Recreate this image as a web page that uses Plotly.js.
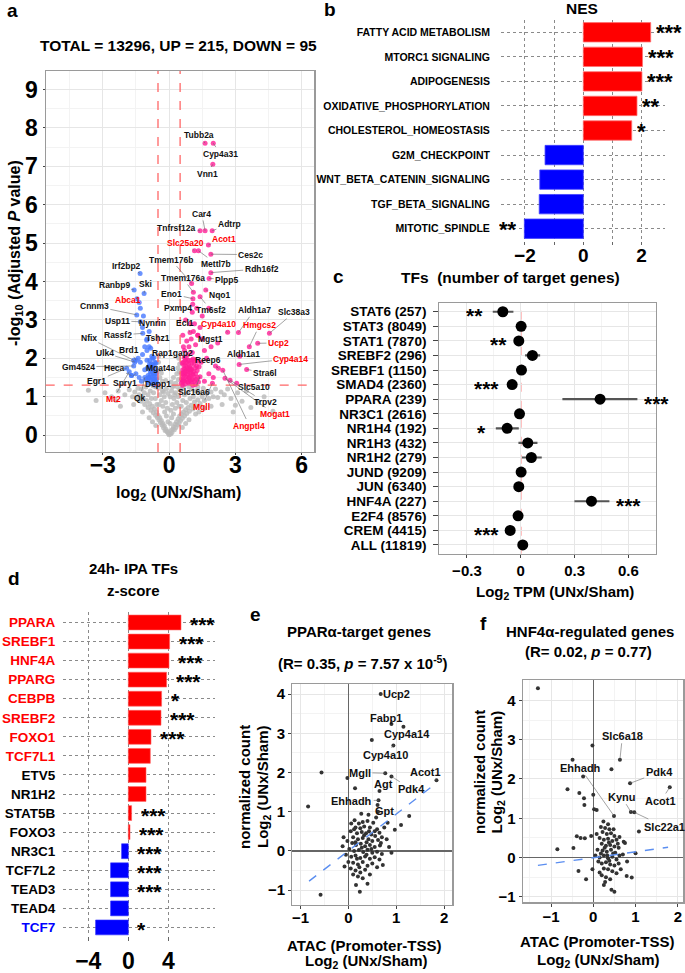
<!DOCTYPE html>
<html><head><meta charset="utf-8">
<script src="https://cdn.plot.ly/plotly-3.0.1.min.js"></script>
<style>html,body{margin:0;padding:0;background:#fff}#chart{width:685px;height:973px}</style>
</head><body><div id="chart"></div>
<script>
// ================= DATA =================
// (a) volcano: non-significant genes [log2FC, -log10 padj]
const volcGrey = [[0,0.01],[0.03,0.04],[-0.03,0.05],[0.07,0.03],[-0.07,0.08],[0.1,0.12],[-0.1,0.1],[0.13,0.07],[-0.14,0.15],[0.17,0.16],[-0.18,0.12],[0.2,0.22],[-0.21,0.24],[0.24,0.14],[-0.25,0.19],[0.27,0.28],[-0.28,0.3],[0.31,0.2],[-0.32,0.26],[0.34,0.35],[-0.35,0.38],[0.38,0.26],[-0.39,0.33],[0.41,0.42],[-0.42,0.45],[0.45,0.31],[-0.46,0.4],[0.48,0.5],[-0.5,0.52],[0.52,0.38],[-0.53,0.46],[0.56,0.55],[-0.57,0.6],[0.6,0.44],[-0.61,0.52],[0.65,0.6],[-0.66,0.68],[0.7,0.5],[-0.71,0.58],[0.75,0.66],[-0.76,0.75],[0.8,0.56],[-0.82,0.65],[0.86,0.72],[-0.88,0.82],[0.92,0.62],[-0.95,0.72],[1.0,0.78],[-1.02,0.9],[1.08,0.68],[-1.1,0.8],[1.15,0.86],[-1.18,0.98],[1.22,0.75],[-1.26,0.88],[1.3,0.92],[-1.35,1.05],[1.4,0.82],[-1.45,0.95],[1.5,1.0],[-1.55,1.12],[1.6,0.9],[-1.65,1.0],[1.7,1.08],[1.8,0.95],[-1.8,1.18],[1.9,1.12],[2.0,1.0],[-2.0,1.05],[2.1,1.2],[2.2,0.98],[-2.3,1.15],[2.35,1.12],[2.5,1.05],[-2.6,1.0],[2.65,1.2],[2.8,0.95],[-2.9,1.1],[3.0,0.78],[3.1,1.1],[3.3,0.88],[-3.3,0.9],[3.5,1.15],[3.7,0.72],[-3.65,1.17],[4.0,0.85],[4.3,1.0],[4.7,0.62],[-2.2,0.75],
[0.05,0.3],[-0.05,0.35],[0.12,0.45],[-0.12,0.5],[0.2,0.55],[-0.2,0.6],[0.08,0.65],[-0.08,0.7],[0.28,0.7],[-0.28,0.75],[0.15,0.8],[-0.15,0.85],[0.35,0.85],[-0.35,0.9],[0.22,0.95],[-0.22,1.0],[0.05,1.0],[-0.05,1.08],[0.42,1.0],[-0.42,1.05],[0.3,1.1],[-0.3,1.15],[0.12,1.15],[-0.12,1.2],[0.48,1.18],[-0.48,1.22],[0.38,1.25],[-0.38,1.28],[0.2,1.28],[0.55,0.75],[-0.55,0.8],[0.62,0.9],[-0.62,0.95],[0.7,1.05],[-0.7,1.1],[0.58,1.2],[-0.6,1.25],[0.78,0.85],[-0.8,0.95],[0.85,1.1],[-0.85,1.15],[0.95,0.95],[-0.95,1.05],[1.02,1.2],[-1.05,1.25],[1.1,1.0],[-1.12,1.1],[1.2,1.15],[1.3,1.25],[-1.25,1.2],[1.4,1.1],[1.55,1.22],[-1.4,1.22],[0.9,1.25],[0.65,1.28],[-0.72,1.28],
[0.9,0.4],[-0.9,0.45],[1.2,0.55],[-1.2,0.6],[1.6,0.7],[-1.6,0.8],[0.6,0.2],[-0.6,0.25],[0.75,0.3],[-0.75,0.35],[1.35,0.6],[2.4,0.8],[-2.4,0.9],[1.9,0.75],[2.9,0.6],[0.45,0.75],[-0.45,0.8],[0.25,1.05],[-0.25,1.12],[0.15,1.25],
[0.3,1.35],[-0.3,1.4],[0.42,1.45],[-0.42,1.5],[0.2,1.5],[0.46,1.65],[-0.45,1.7],[0.35,1.6],[-0.35,1.62],[0.48,1.85],[-0.48,1.9],[0.4,1.75],[0.44,2.0],[-0.47,2.05],[0.1,1.38],[-0.15,1.42]];
// (a) up-regulated genes
const volcUp = [[0.55,1.35],[0.6,1.5],[0.62,1.7],[0.65,1.9],[0.7,1.4],[0.72,1.6],[0.75,1.8],[0.78,2.0],[0.8,1.45],[0.85,1.65],[0.88,1.85],[0.9,1.35],[0.95,1.55],[0.98,1.75],[1.0,1.95],[1.05,1.45],[1.1,1.65],[1.12,1.85],[1.15,1.4],[1.2,1.6],[1.25,1.8],[1.3,1.5],[0.6,1.3],[0.68,1.55],[0.82,1.75],[0.92,1.5],[1.02,1.7],[1.08,1.3],[0.58,1.6],[0.74,1.95],[0.66,1.42],[0.86,1.38],[0.96,1.68],[1.18,1.75],[0.7,1.72],
[0.57,1.45],[0.63,1.62],[0.67,1.82],[0.73,1.33],[0.77,1.52],[0.83,1.58],[0.87,1.95],[0.93,1.78],[0.97,1.42],[1.03,1.88],[1.07,1.58],[1.13,1.52],[1.17,1.95],[1.22,1.45],[1.27,1.68],[1.33,1.38],[1.36,1.78],[0.59,1.88],[0.69,2.02],[0.79,1.68],[0.89,1.48],[0.99,1.62],[1.09,1.98],[1.19,1.32],[1.29,1.92],[0.61,1.4],[0.71,1.65],[0.81,1.9],[0.91,1.72],[1.01,1.38],
[0.7,2.2],[0.9,2.3],[1.0,2.5],[0.8,2.45],[1.2,2.35],[1.3,2.6],[1.1,2.7],[0.95,2.9],[1.15,2.9],[1.4,2.8],[1.5,2.5],[1.6,2.2],[1.7,2.0],[1.45,1.9],[1.8,1.6],[2.0,1.5],[2.1,1.8],[1.9,2.3],[2.2,2.4],[1.05,3.2],[1.25,3.3],[1.5,3.1],[1.8,3.3],[0.75,3.0],[0.62,2.6],[1.6,1.4],[0.85,2.1],[1.05,2.15],[0.65,2.3]];
// (a) down-regulated genes
const volcDown = [[-0.55,1.35],[-0.6,1.5],[-0.62,1.7],[-0.65,1.9],[-0.7,1.4],[-0.72,1.6],[-0.75,1.8],[-0.78,2.05],[-0.8,1.45],[-0.85,1.65],[-0.88,1.85],[-0.9,1.35],[-0.95,1.55],[-0.98,1.75],[-1.0,1.95],[-1.05,1.45],[-1.1,1.7],[-0.6,1.3],[-0.68,1.55],[-0.82,1.75],[-0.92,1.5],[-0.58,1.6],[-0.74,2.0],
[-0.57,1.45],[-0.63,1.62],[-0.67,1.82],[-0.73,1.33],[-0.77,1.52],[-0.83,1.58],[-0.87,1.95],[-0.93,1.78],[-0.97,1.42],[-0.59,1.88],[-0.69,2.02],[-0.79,1.68],[-0.89,1.48],[-0.61,1.4],[-0.71,1.65],
[-1.2,2.1],[-1.3,1.9],[-1.4,2.0],[-1.7,1.55],[-1.35,1.5],[-1.25,1.4],[-1.1,2.3],[-1.0,2.5],[-0.9,2.7],[-1.2,2.8],[-1.3,3.3],[-1.45,3.55],[-1.0,2.2],[-0.9,2.3]];
// (a) labelled genes
const volcGenes = ['Tubb2a','Cyp4a31','Vnn1','Car4','Tnfrsf12a','Adtrp','Slc25a20','Acot1','Ces2c','Tmem176b','Mettl7b','Rdh16f2','Tmem176a','Plpp5','Eno1','Nqo1','Pxmp4','Tm6sf2','Aldh1a7','Slc38a3','Ecl1','Cyp4a10','Hmgcs2','Mgst1','Ucp2','Aldh1a1','Cyp4a14','Reep6','Stra6l','Slc16a6','Slc5a10','Trpv2','Mogat1','Angptl4','Mgll','Irf2bp2','Ranbp9','Ski','Abca1','Cnnm3','Usp11','Nynrin','Nfix','Rassf2','Tshz1','Ulk4','Brd1','Rap1gap2','Gm4524','Heca','Mgat4a','Egr1','Spry1','Depp1','Mt2','Qk'];
const volcGeneFC = [1.63,2.0,1.98,1.63,1.4,1.95,1.15,1.78,1.89,1.02,1.33,1.89,1.1,1.81,1.08,1.66,1.07,1.4,3.14,4.54,0.95,2.65,3.63,1.3,4.01,3.2,3.17,2.23,3.51,1.4,3.06,2.76,2.53,2.43,1.96,-1.31,-1.58,-1.13,-1.35,-1.46,-1.3,-1.16,-1.6,-1.19,-1.01,-1.55,-1.49,-0.83,-1.6,-1.7,-0.8,-1.92,-1.5,-0.7,-1.8,-1.1];
const volcGeneP = [7.6,7.6,7.05,5.32,5.32,5.32,4.8,4.95,4.71,3.95,4.8,4.23,3.72,4.08,3.55,3.78,3.41,3.6,2.67,2.65,2.67,2.68,2.3,2.6,2.39,2.05,1.84,1.74,1.71,1.52,1.35,1.43,1.48,1.69,1.35,4.21,3.78,3.69,3.45,3.13,2.95,3.1,1.95,2.65,2.47,1.9,1.95,2.26,1.8,1.55,1.85,1.74,1.6,1.45,1.65,1.5];
const volcRedGenes = ['Slc25a20','Acot1','Cyp4a10','Hmgcs2','Ucp2','Cyp4a14','Mogat1','Angptl4','Mgll','Abca1','Mt2'];
const volcThreshFC = [-0.5, 0.5];
const volcThreshP = 1.3;
const volcTitle = 'TOTAL = 13296, UP = 215, DOWN = 95';

// (b) GSEA hallmark NES
const nesPathways = ['FATTY ACID METABOLISM','MTORC1 SIGNALING','ADIPOGENESIS','OXIDATIVE_PHOSPHORYLATION','CHOLESTEROL_HOMEOSTASIS','G2M_CHECKPOINT','WNT_BETA_CATENIN_SIGNALING','TGF_BETA_SIGNALING','MITOTIC_SPINDLE'];
const nesValues = [2.31,2.03,2.01,1.84,1.66,-1.31,-1.49,-1.51,-2.02];
const nesStars = ['***','***','***','**','*','','','','**'];

// (c) TF target genes, mean log2 TPM with interval
const tfNames = ['STAT6 (257)','STAT3 (8049)','STAT1 (7870)','SREBF2 (296)','SREBF1 (1150)','SMAD4 (2360)','PPARA (239)','NR3C1 (2616)','NR1H4 (192)','NR1H3 (432)','NR1H2 (279)','JUND (9209)','JUN (6340)','HNF4A (227)','E2F4 (8576)','CREM (4415)','ALL (11819)'];
const tfMean = [-0.100,0.002,-0.011,0.065,0.004,-0.048,0.442,-0.007,-0.076,0.039,0.059,0.002,-0.011,0.394,-0.015,-0.059,0.011];
const tfLow  = [-0.156,-0.006,-0.020,0.024,-0.017,-0.064,0.232,-0.029,-0.139,-0.013,0.006,-0.006,-0.018,0.299,-0.023,-0.068,0.006];
const tfHigh = [-0.041,0.010,-0.002,0.108,0.024,-0.032,0.650,0.015,-0.011,0.093,0.117,0.010,-0.004,0.494,-0.007,-0.050,0.016];
const tfStars = ['**','','**','','','***','***','','*','','','','','***','','***',''];

// (d) IPA upstream TFs z-score
const ipaTFs = ['PPARA','SREBF1','HNF4A','PPARG','CEBPB','SREBF2','FOXO1','TCF7L1','ETV5','NR1H2','STAT5B','FOXO3','NR3C1','TCF7L2','TEAD3','TEAD4','TCF7'];
const ipaZ = [5.27,4.13,4.07,3.83,3.33,3.27,2.27,2.2,1.77,1.77,0.33,0.17,-0.67,-1.77,-1.77,-1.77,-3.27];
const ipaStars = ['***','***','***','***','*','***','***','','','','***','***','***','***','***','','*'];
const ipaLabelColor = ['#FF0000','#FF0000','#FF0000','#FF0000','#FF0000','#FF0000','#FF0000','#FF0000','#000000','#000000','#000000','#000000','#000000','#000000','#000000','#000000','#0000FF'];

// (e) PPARa targets: [ATAC log2FC, RNA log2FC]
const pparPts = [[-0.56,2.0],[-0.02,1.86],[-0.84,1.13],[0.14,1.6],[-0.58,-1.12],[1.27,0.89],[1.1,0.66],[0.97,0.54],[0.72,-0.36],[0.4,-0.84],[0.24,-1.04],[0.16,-0.87],[0.49,2.83],[0.82,0.72],
[0.13,0.78],[0.3,0.74],[0.22,0.7],[0.4,0.76],[0.15,0.6],[0.25,0.58],[0.33,0.62],[0.45,0.6],[0.52,0.72],[0.6,0.55],[0.05,0.5],[0.18,0.45],[0.28,0.48],[0.37,0.45],[0.48,0.42],[0.56,0.38],[0.65,0.46],[0.1,0.35],[0.2,0.3],[0.3,0.33],[0.42,0.3],[0.5,0.25],[0.62,0.28],[0.7,0.35],[-0.02,0.25],[0.08,0.2],[0.16,0.15],[0.26,0.18],[0.35,0.12],[0.45,0.15],[0.55,0.1],[0.66,0.14],[-0.12,0.12],[0.02,0.05],[0.12,0.0],[0.22,0.02],[0.31,-0.03],[0.4,0.03],[0.5,-0.05],[0.6,-0.02],[0.7,-0.08],[-0.05,-0.1],[0.06,-0.15],[0.15,-0.12],[0.25,-0.18],[0.35,-0.14],[0.45,-0.2],[0.55,-0.16],[0.65,-0.22],[0.0,-0.28],[0.1,-0.3],[0.2,-0.35],[0.3,-0.28],[0.4,-0.38],[0.5,-0.32],[0.6,-0.42],[0.05,-0.45],[0.15,-0.5],[0.25,-0.55],[0.35,-0.48],[0.45,-0.6],[0.2,-0.65],[0.3,-0.7],[0.1,-0.6],[-0.08,-0.4],[-0.1,0.35],[0.8,0.3],[0.85,0.1],[0.75,0.6],[0.9,-0.05],[0.58,0.85],[0.42,0.92],[0.27,0.95],[0.62,1.0],[0.18,-0.2],[0.38,0.22],[0.48,0.05],[0.28,0.08],[0.33,0.4],[0.43,0.5],[0.12,0.55],[0.23,-0.42],[0.38,-0.1],[0.55,0.5],[0.68,0.2],[0.06,0.7],[0.15,0.22]];
const pparGenes = ['Ucp2','Fabp1','Cyp4a14','Cyp4a10','Mgll','Agt','Pdk4','Acot1','Ehhadh','Gpt'];
const pparGeneX = [0.675,0.9,1.15,0.94,0.77,0.65,0.9,1.84,0.63,0.61];
const pparGeneY = [4.0,3.24,3.17,2.69,1.98,1.53,1.9,1.8,1.29,1.17];
const pparFitX = [-0.82,1.84], pparFitY = [-0.77,1.73];

// (f) HNF4a regulated genes
const hnfPts = [[-1.31,4.31],[-0.02,2.85],[0.43,2.25],[-0.49,2.49],[-0.24,2.06],[-0.61,1.74],[-0.33,1.64],[-0.22,1.51],[-0.21,1.34],[0.0,1.6],[0.02,1.23],[0.08,1.21],[1.08,0.66],[0.24,0.92],[-0.85,0.21],[-0.47,0.24],[-0.35,-0.34],[-0.17,-0.55],[-0.39,0.54],[-0.2,0.49],[0.91,-0.51],[0.79,-0.47],[0.5,-0.87],[0.43,-0.82],[1.0,0.11],[0.75,0.37],[-0.02,-0.3],[-0.05,0.55],[-0.3,0.5],
[0.18,0.78],[0.28,0.75],[0.38,0.72],[0.22,0.65],[0.32,0.6],[0.42,0.62],[0.5,0.55],[0.15,0.5],[0.25,0.45],[0.35,0.48],[0.45,0.42],[0.55,0.45],[0.2,0.35],[0.3,0.3],[0.4,0.32],[0.5,0.28],[0.6,0.25],[0.1,0.2],[0.22,0.18],[0.32,0.15],[0.42,0.2],[0.52,0.12],[0.62,0.05],[0.05,0.05],[0.15,0.0],[0.25,0.05],[0.35,-0.02],[0.45,0.02],[0.55,-0.05],[0.7,0.08],[0.12,-0.1],[0.2,-0.15],[0.3,-0.12],[0.4,-0.18],[0.5,-0.2],[0.6,-0.15],[0.25,-0.28],[0.35,-0.3],[0.45,-0.35],[0.55,-0.4],[0.2,-0.45],[0.3,-0.5],[0.4,-0.55],[0.28,-0.62],[0.15,-0.38],[0.65,-0.3],[0.72,0.4],[0.8,-0.1],[0.33,0.05],[0.27,0.25],[0.37,0.38],[0.47,0.1],[0.18,0.1],[0.38,-0.08],[0.58,0.35],[0.08,0.6],[0.25,-0.7],[0.62,0.52],[0.35,0.85],[0.48,0.72]];
const hnfGenes = ['Slc6a18','Ehhadh','Pdk4','Kynu','Acot1','Slc22a1'];
const hnfGeneX = [0.63,0.49,0.87,0.89,1.81,0.97];
const hnfGeneY = [2.49,1.06,1.89,1.16,1.79,1.15];
const hnfFitX = [-1.31,1.77], hnfFitY = [-0.20,0.26];

// label text placements (data units of each panel)
const volcTextPos = [[1.37,7.81],[2.31,7.33],[1.73,6.81],[1.48,5.76],[0.35,5.39],[2.73,5.49],[0.75,5.01],[2.5,5.1],[3.7,4.7],[0.08,4.57],[2.13,4.46],[4.19,4.33],[0.62,4.09],[2.61,4.05],[0.12,3.68],[2.31,3.65],[0.42,3.31],[1.89,3.26],[3.85,3.25],[5.67,3.2],[0.74,2.91],[2.23,2.88],[4.09,2.86],[1.86,2.49],[4.95,2.4],[3.36,2.1],[5.51,1.99],[1.78,1.96],[4.34,1.62],[1.13,1.13],[3.86,1.24],[4.34,0.86],[4.77,0.55],[3.63,0.25],[1.48,0.74],[-1.92,4.41],[-2.49,3.91],[-1.06,3.93],[-1.86,3.52],[-3.38,3.36],[-2.34,2.98],[-0.74,2.93],[-3.63,2.53],[-2.31,2.6],[-0.5,2.53],[-2.91,2.14],[-1.79,2.21],[0.14,2.14],[-4.1,1.78],[-2.49,1.75],[-0.38,1.74],[-3.27,1.41],[-2.0,1.36],[-0.5,1.33],[-2.52,0.95],[-1.31,0.97]];
const pparTextPos = [[1.0,4.01],[0.79,3.39],[1.23,2.98],[0.77,2.44],[0.24,2.0],[0.74,1.71],[1.32,1.57],[1.61,2.02],[0.07,1.28],[0.75,1.02]];
const hnfTextPos = [[0.69,3.1],[-0.31,2.28],[1.56,2.17],[0.67,1.55],[1.6,1.44],[1.68,0.79]];

// ================= DRAW =================
const W = 685, H = 973;
const px = v => v / W, py = v => 1 - v / H;
const FONT = 'Liberation Sans, Arial, Helvetica, sans-serif';
const NARROW = 'Liberation Sans Narrow, Liberation Sans, Arial, sans-serif';
const bold = (size, color, fam) => ({family: fam || FONT, size: size, weight: 'bold', color: color || '#000'});
const gridC = '#E6E6E6', minorC = '#F3F3F3', borderC = '#9A9A9A';
const col = (arr, i) => arr.map(p => p[i]);

const traces = [];
traces.push({type:'scatter', mode:'markers', x:col(volcGrey,0), y:col(volcGrey,1), xaxis:'x', yaxis:'y',
  marker:{size:5, color:'rgba(185,185,185,0.8)'}, hoverinfo:'skip'});
const upLab = [], downLab = [];
volcGenes.forEach((g,i) => (volcGeneFC[i] > 0 ? upLab : downLab).push([volcGeneFC[i], volcGeneP[i]]));
const upAll = volcUp.concat(upLab), downAll = volcDown.concat(downLab);
traces.push({type:'scatter', mode:'markers', x:col(upAll,0), y:col(upAll,1), xaxis:'x', yaxis:'y',
  marker:{size:5, color:'rgba(255,30,150,0.8)'}, hoverinfo:'skip'});
traces.push({type:'scatter', mode:'markers', x:col(downAll,0), y:col(downAll,1), xaxis:'x', yaxis:'y',
  marker:{size:5, color:'rgba(70,120,255,0.8)'}, hoverinfo:'skip'});

traces.push({type:'bar', orientation:'h', x:nesValues, y:nesPathways, xaxis:'x2', yaxis:'y2', width:0.79,
  marker:{color:nesValues.map(v => v > 0 ? '#FF0000' : '#0000FF'),
          line:{color:nesValues.map(v => v > 0 ? '#FF7070' : '#4040FF'), width:0.8}}, hoverinfo:'skip'});

traces.push({type:'scatter', mode:'markers', x:tfMean, y:tfNames, xaxis:'x3', yaxis:'y3',
  error_x:{type:'data', symmetric:false, array:tfHigh.map((h,i) => h - tfMean[i]), arrayminus:tfLow.map((l,i) => tfMean[i] - l),
           color:'#555555', thickness:2.2, width:0},
  marker:{size:11, color:'#000'}, hoverinfo:'skip'});

traces.push({type:'bar', orientation:'h', x:ipaZ, y:ipaTFs, xaxis:'x4', yaxis:'y4', width:0.78,
  marker:{color:ipaZ.map(v => v > 0 ? '#FF0000' : '#0000FF'),
          line:{color:ipaZ.map(v => v > 0 ? '#FF6060' : '#3030FF'), width:0.6}}, hoverinfo:'skip'});

traces.push({type:'scatter', mode:'markers', x:col(pparPts,0).concat(pparGeneX), y:col(pparPts,1).concat(pparGeneY), xaxis:'x5', yaxis:'y5',
  marker:{size:4, color:'#333'}, hoverinfo:'skip'});
traces.push({type:'scatter', mode:'lines', x:pparFitX, y:pparFitY, xaxis:'x5', yaxis:'y5',
  line:{color:'#5B8EF0', width:1.4, dash:'dash'}, hoverinfo:'skip'});
traces.push({type:'scatter', mode:'markers', x:col(hnfPts,0).concat(hnfGeneX), y:col(hnfPts,1).concat(hnfGeneY), xaxis:'x6', yaxis:'y6',
  marker:{size:4, color:'#333'}, hoverinfo:'skip'});
traces.push({type:'scatter', mode:'lines', x:hnfFitX, y:hnfFitY, xaxis:'x6', yaxis:'y6',
  line:{color:'#5B8EF0', width:1.4, dash:'dash'}, hoverinfo:'skip'});

// ---------- annotations ----------
const ann = [];
function txt(text, x, y, size, extra) {
  ann.push(Object.assign({text:text, x:px(x), y:py(y), xref:'paper', yref:'paper', showarrow:false,
    font:bold(size), xanchor:'center', yanchor:'middle'}, extra || {}));
}
// panel letters
[['a',12.3,10],['b',330,9.5],['c',338.3,276.7],['d',14,578],['e',255,614.3],['f',483.3,623.3]]
  .forEach(l => txt(l[0], l[1], l[2], 19));
// titles
txt(volcTitle, 178.3, 45, 15.5);
txt('-log<sub>10</sub> (Adjusted <i>P</i> value)', 15, 253, 16, {textangle:-90});
txt('log<sub>2</sub> (UNx/Sham)', 178, 493, 16);
txt('NES', 582.3, 9, 15.5);
txt('TFs\u00A0 (number of target genes)', 510.3, 277.7, 15.5);
txt('Log<sub>2</sub> TPM (UNx/Sham)', 555, 592, 15);
txt('24h- IPA TFs', 133.7, 568.3, 15);
txt('z-score', 133.7, 590, 15);
txt('PPARα-target genes', 359, 631, 15);
txt('(R= 0.35, <i>p</i> = 7.57 x 10<sup>-5</sup>)', 362, 662, 15);
txt('normalized count', 244.3, 786.7, 15, {textangle:-90});
txt('Log<sub>2</sub> (UNx/Sham)', 263.3, 786.7, 15, {textangle:-90});
txt('ATAC (Promoter-TSS)', 364.3, 945.5, 15);
txt('Log<sub>2</sub> (UNx/Sham)', 366.7, 961.5, 15);
txt('HNF4α-regulated genes', 590, 631.7, 15);
txt('(R= 0.02, <i>p</i> = 0.77)', 588, 651.7, 15);
txt('normalized count', 479.3, 771.7, 15, {textangle:-90});
txt('Log<sub>2</sub> (UNx/Sham)', 497.7, 771.7, 15, {textangle:-90});
txt('ATAC (Promoter-TSS)', 596.7, 941.7, 15);
txt('Log<sub>2</sub> (UNx/Sham)', 598, 960.5, 15);

// gene labels with leader lines
function geneLabels(names, gx, gy, tpos, xr, yr, size, colorFn) {
  names.forEach((g, i) => ann.push({text:g, x:gx[i], y:gy[i], ax:tpos[i][0], ay:tpos[i][1],
    xref:xr, yref:yr, axref:xr, ayref:yr, showarrow:true, arrowhead:0, arrowwidth:0.6,
    arrowcolor:'#666', standoff:0, font:bold(size, colorFn(g))}));
}
geneLabels(volcGenes, volcGeneFC, volcGeneP, volcTextPos, 'x', 'y', 8.5,
  g => volcRedGenes.includes(g) ? '#FF0000' : '#111');
geneLabels(pparGenes, pparGeneX, pparGeneY, pparTextPos, 'x5', 'y5', 11, () => '#111');
geneLabels(hnfGenes, hnfGeneX, hnfGeneY, hnfTextPos, 'x6', 'y6', 11, () => '#111');

// significance stars
nesStars.forEach((s, i) => { if (!s) return; const v = nesValues[i];
  ann.push({text:s, x:v, y:nesPathways[i], xref:'x2', yref:'y2', showarrow:false, height:16,
    xanchor: v > 0 ? 'left' : 'right', xshift: v > 0 ? 3 : -5, yanchor:'middle', font:bold(22)}); });
tfStars.forEach((s, i) => { if (!s) return; const pos = tfMean[i] > 0.1;
  ann.push({text:s, x: pos ? tfHigh[i] : tfLow[i], y:tfNames[i], xref:'x3', yref:'y3', showarrow:false, height:13,
    xanchor: pos ? 'left' : 'right', xshift: pos ? 5 : -8, yanchor:'middle', yshift:-4, font:bold(21)}); });
ipaStars.forEach((s, i) => { if (!s) return;
  ann.push({text:s, x:Math.max(ipaZ[i], 0), y:ipaTFs[i], xref:'x4', yref:'y4', showarrow:false, height:15,
    xanchor:'left', xshift:7, yanchor:'middle', yshift:-2, font:bold(21)}); });

// ---------- shapes ----------
const shapes = [];
volcThreshFC.forEach(v => shapes.push({type:'line', xref:'x', yref:'y domain', x0:v, x1:v, y0:0, y1:1,
  line:{color:'#FF6666', width:1.3, dash:'dash'}, layer:'above'}));
shapes.push({type:'line', xref:'x domain', yref:'y', x0:0, x1:1, y0:volcThreshP, y1:volcThreshP,
  line:{color:'#FF6666', width:1.3, dash:'dash'}, layer:'above'});
shapes.push({type:'line', xref:'x3', yref:'y3 domain', x0:0, x1:0, y0:0, y1:1,
  line:{color:'#FF6666', width:1.3, dash:'dash'}, layer:'below'});

// ---------- axes ----------
const boxAxis = {showline:true, mirror:true, linecolor:borderC, linewidth:1.2, zeroline:false,
  showgrid:true, gridcolor:gridC, ticks:'outside', ticklen:3, tickcolor:'#444', fixedrange:true};
const layout = {
  width:W, height:H, margin:{l:0, r:0, t:0, b:0}, paper_bgcolor:'#fff', plot_bgcolor:'#fff',
  showlegend:false, font:{family:FONT, color:'#000'}, annotations:ann, shapes:shapes,
  xaxis: Object.assign({}, boxAxis, {domain:[px(45.7), px(314.3)], range:[-5.58, 6.57], anchor:'y',
    tickmode:'array', tickvals:[-3,0,3,6], tickfont:bold(23, '#000', NARROW), ticklen:2, ticklabelstandoff:-10,
    minor:{tickvals:[-4.5,-1.5,1.5,4.5], showgrid:true, gridcolor:minorC, ticks:''}}),
  yaxis: Object.assign({}, boxAxis, {domain:[py(452), py(71)], range:[-0.44, 9.48], anchor:'x',
    tickmode:'array', tickvals:[0,1,2,3,4,5,6,7,8,9], tickfont:bold(23, '#000', NARROW), ticklen:2,
    minor:{tickvals:[0.5,1.5,2.5,3.5,4.5,5.5,6.5,7.5,8.5], showgrid:true, gridcolor:minorC, ticks:''}}),
  xaxis2: {domain:[px(501), px(665)], range:[-2.82, 2.8], anchor:'y2', tickmode:'array', tickvals:[-2,0,2],
    tickfont:bold(19, '#000', NARROW), showgrid:true, gridcolor:'#8A8A8A', griddash:'dot', gridwidth:1, ticklabelstandoff:-6,
    minor:{tickvals:[-1,1], showgrid:true, gridcolor:'#8A8A8A', griddash:'dot', ticks:'outside', ticklen:3, tickcolor:'#666'},
    zeroline:false, showline:false, ticks:'outside', ticklen:3, tickcolor:'#666', fixedrange:true},
  yaxis2: {domain:[py(241), py(20)], type:'category', categoryarray:nesPathways, range:[8.5, -0.5], anchor:'x2',
    tickmode:'array', tickvals:nesPathways,
    tickfont:bold(10.5), showgrid:true, gridcolor:'#8A8A8A', griddash:'dot', gridwidth:1, zeroline:false,
    showline:false, ticks:'outside', ticklen:8, tickcolor:'rgba(0,0,0,0)', fixedrange:true},
  xaxis3: Object.assign({}, boxAxis, {domain:[px(439.3), px(655.7)], range:[-0.454, 0.752], anchor:'y3',
    tickmode:'array', tickvals:[-0.3,0,0.3,0.6], tickfont:bold(15),
    minor:{tickvals:[-0.15,0.15,0.45], showgrid:true, gridcolor:minorC, ticks:''}}),
  yaxis3: Object.assign({}, boxAxis, {domain:[py(553.7), py(303)], type:'category', categoryarray:tfNames,
    tickmode:'array', tickvals:tfNames,
    range:[16.6, -0.6], anchor:'x3', tickfont:bold(13.5), ticklen:5, ticklabelstandoff:4}),
  xaxis4: {domain:[px(63), px(215)], range:[-6.53, 8.67], anchor:'y4', tickmode:'array', tickvals:[-4,0,4],
    tickfont:bold(23, '#000', NARROW), showgrid:true, gridcolor:'#8A8A8A', griddash:'dot', gridwidth:1,
    zeroline:false, showline:false, ticks:'outside', ticklen:4, tickcolor:'#666', fixedrange:true},
  yaxis4: {domain:[py(936), py(612)], type:'category', categoryarray:ipaTFs, range:[16.45, -0.55], anchor:'x4',
    tickmode:'array', tickvals:ipaTFs,
    ticktext:ipaTFs.map((t, i) => '<span style="color:' + ipaLabelColor[i] + '">' + t + '</span>'),
    tickfont:bold(13.5), showgrid:true, gridcolor:'#8A8A8A', griddash:'dot', gridwidth:1, zeroline:false,
    showline:false, ticks:'outside', ticklen:4, tickcolor:'rgba(0,0,0,0)', fixedrange:true},
  xaxis5: Object.assign({}, boxAxis, {domain:[px(292.3), px(452.3)], range:[-1.17, 2.17], anchor:'y5',
    tickmode:'array', tickvals:[-1,0,1,2], tickfont:bold(15), ticklabelstandoff:-4, zeroline:true, zerolinecolor:'#666', zerolinewidth:1.2,
    minor:{tickvals:[-0.5,0.5,1.5], showgrid:true, gridcolor:minorC, ticks:''}}),
  yaxis5: Object.assign({}, boxAxis, {domain:[py(905), py(684.3)], range:[-1.38, 4.25], anchor:'x5',
    tickmode:'array', tickvals:[-1,0,1,2,3,4], tickfont:bold(15), zeroline:true, zerolinecolor:'#666', zerolinewidth:1.2,
    minor:{tickvals:[-0.5,0.5,1.5,2.5,3.5], showgrid:true, gridcolor:minorC, ticks:''}}),
  xaxis6: Object.assign({}, boxAxis, {domain:[px(522.7), px(683.3)], range:[-1.67, 2.13], anchor:'y6',
    tickmode:'array', tickvals:[-1,0,1,2], tickfont:bold(15), ticklabelstandoff:-3, zeroline:true, zerolinecolor:'#666', zerolinewidth:1.2,
    minor:{tickvals:[-1.5,-0.5,0.5,1.5], showgrid:true, gridcolor:minorC, ticks:''}}),
  yaxis6: Object.assign({}, boxAxis, {domain:[py(902.3), py(680)], range:[-1.14, 4.52], anchor:'x6',
    tickmode:'array', tickvals:[-1,0,1,2,3,4], tickfont:bold(15), zeroline:true, zerolinecolor:'#666', zerolinewidth:1.2,
    minor:{tickvals:[-0.5,0.5,1.5,2.5,3.5], showgrid:true, gridcolor:minorC, ticks:''}})
};

Plotly.newPlot('chart', traces, layout, {staticPlot:true, displayModeBar:false});
</script>
</body></html>
